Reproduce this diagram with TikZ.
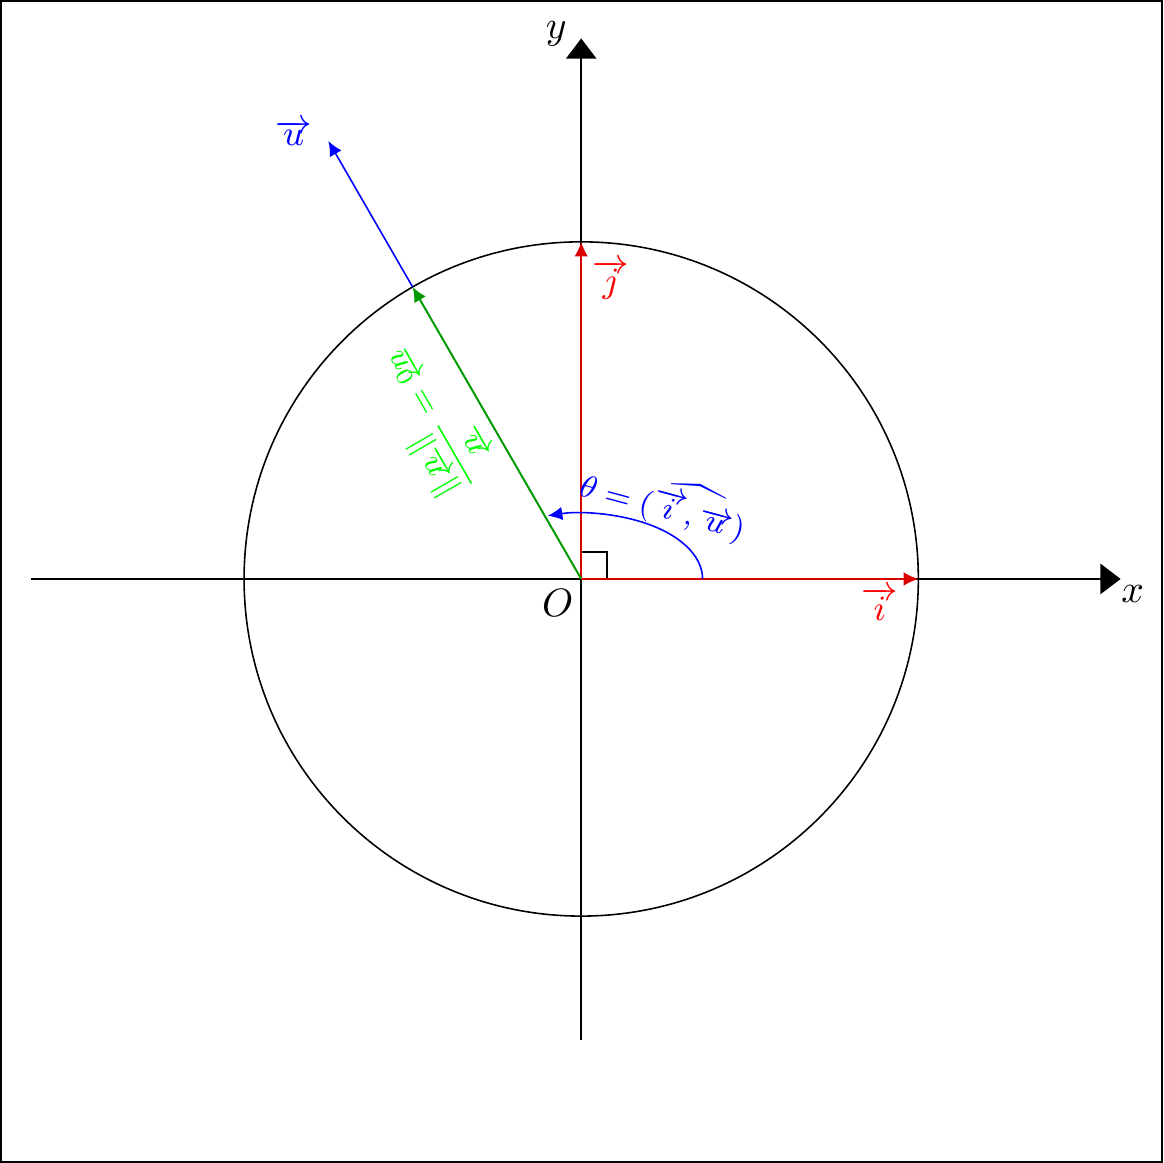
\documentclass[tikz,border=0pt]{standalone}
\usetikzlibrary{arrows.meta}
\begin{document}
\begin{tikzpicture}[
  axe/.style={-{Triangle[length=1.8mm, width=2.7mm]}},
  vect/.style={-{Latex[length=1.3mm, width=1.2mm]}}
  ]

  % Cadre de la figure
  \draw (-5.165,-5.19) rectangle (5.17,5.145) ;

  %%%%%%%%%%%%%%%%%%%%%%%%%%%%%%%%% Points pour travailler %%%%%%%%%%%%%%%%%%%%%%%%%%%%%%%%%%%%
  \draw (0,0) coordinate (O) ;
  \draw (-4.9,0) coordinate (xmin) ;
  \draw (4.8,0) coordinate (xmax) ;
  \draw (0,-4.1) coordinate (ymin) ;
  \draw (0,4.81) coordinate (ymax) ;

  % Extremites des vecteurs
  \draw (3,0) coordinate (I) ;
  \draw (0,3) coordinate (J) ;
  \draw (120:4.5) coordinate (U) ;
  \draw (120:3) coordinate (U0) ;
  \draw (1.08,0) coordinate (A) ;

  %%%%%%%%%%%%%%%%%%%%%%%%%%%%%%%%% Axes et cercle %%%%%%%%%%%%%%%%%%%%%%%%%%%%%%%%%%%%
  \draw[axe] (xmin) -- (xmax) ;
  \draw[axe] (ymin) -- (ymax) ;
  \draw (O) circle (3) ;

  \draw (4.907,-0.133) node (lx) {$x$} ;
  \draw (-0.222,4.853) node (ly) {$y$} ;
  \draw (-0.21,-0.21) node (lO) {$O$} ;

  % Angle droit
  \draw (O) rectangle (0.23,0.24) ;

  %%%%%%%%%%%%%%%%%%%%%%%%%%%%%%%%% Vecteurs %%%%%%%%%%%%%%%%%%%%%%%%%%%%%%%%%%%%
  \draw[vect, color=red!85!black] (O) -- (I) ;
  \draw[vect, color=red!85!black] (O) -- (J) ;
  \draw[vect, color=blue] (U0) -- (U) ;
  \draw[vect, color=green!60!black, line width=0.5pt] (O) -- (U0) ;

  \draw (2.658,-0.22) node[color=red, font=\small] (li) {$\overrightarrow{i}$} ;
  \draw (0.267,2.66) node[color=red, font=\small] (lj) {$\overrightarrow{j}$} ;
  \draw (-2.56,3.97) node[color=blue, font=\small] (lu) {$\overrightarrow{u}$} ;
  \draw (-1.32,1.41) node[color=green, rotate=-60, font=\footnotesize] (lu0)
    {$\displaystyle\overrightarrow{u_0}=\frac{\overrightarrow{u}}{\|\overrightarrow{u}\|}$} ;

  % Angle oriente
  \draw[vect, color=blue] (A) arc [start angle=0, end angle=106, x radius=1.08cm, y radius=0.585cm] ;
  \draw (0.74,0.69) node[color=blue, rotate=-15, font=\footnotesize] (ltheta)
    {$\theta=(\widehat{\overrightarrow{i},\overrightarrow{u}})$} ;

\end{tikzpicture}
\end{document}
